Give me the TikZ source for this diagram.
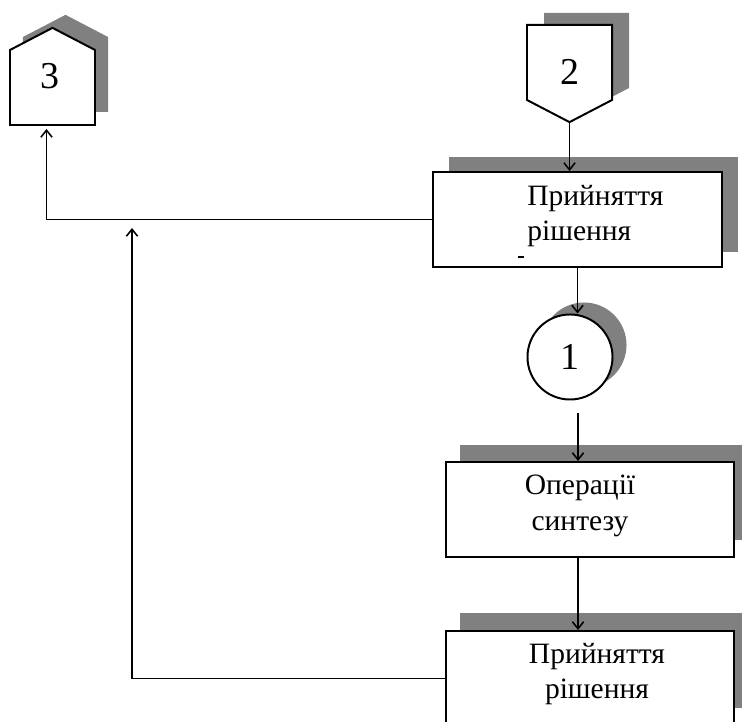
\documentclass[tikz,border=0pt]{standalone}
\usepackage{fontspec}
\setmainfont{Liberation Serif}
\usetikzlibrary{%
  arrows.meta,%
  shadows,%
  shapes.symbols%
}
\tikzset{>={Straight Barb[length=5pt,width=8pt,line width=1.1pt]}}
\definecolor{tinkolir}{gray}{0.5}

\begin{document}
\begin{tikzpicture}[x=0.025cm,y=0.025cm,
    tin/.style 2 args={general shadow={fill=tinkolir,shadow xshift=#1,shadow yshift=#2}},
    blok/.style={draw,fill=white,line width=1.4pt,minimum width=7.2cm,minimum height=2.375cm},
    znak/.style={draw,fill=white,line width=1.4pt,shape=signal,signal pointer angle=125,
      minimum width=2.125cm,minimum height=1.875cm,inner sep=0pt},
    tsyfra/.style={inner sep=0pt,font=\fontsize{27}{30}\selectfont},
    napys/.style={inner sep=0pt,font=\fontsize{21}{25.5}\selectfont},
    lin/.style={line width=1.1pt}]
  \useasboundingbox (0,0) rectangle (742,722);
  % perekhody
  \node[znak,signal to=north,tin={0.325cm}{0.325cm}] (c3) at (52.5,634.5) {};
  \node[tsyfra] (n3) at (50,646) {3};
  \node[znak,signal to=south,tin={0.425cm}{0.3cm}] (c2) at (569.5,659.5) {};
  \node[tsyfra] (n2) at (570,650) {2};
  % bloky
  \node[blok,tin={0.4cm}{0.375cm}] (b1) at (577.5,502.5) {};
  \node[napys,anchor=west,align=left] (t1) at (527,506) {Прийняття\\рішення};
  \draw[line width=0.8pt] (518,465) -- (524,465);
  \node[draw,circle,fill=white,line width=1.4pt,minimum size=2.125cm,inner sep=0pt,
    tin={0.35cm}{0.3cm},tsyfra] (k1) at (570,365) {1};
  \node[blok,tin={0.35cm}{0.425cm}] (b2) at (590,212.5) {};
  \node[napys,align=center] (t2) at (580,216.5) {Операції\\синтезу};
  \node[blok,tin={0.35cm}{0.45cm}] (b3) at (590,43.5) {};
  \node[napys,align=center] (t3) at (597,48) {Прийняття\\рішення};
  % zviazky
  \draw[lin,->] (c2.south) -- (c2.south |- b1.north);
  \draw[lin,->] (b1.south) -- (b1.south |- k1.north);
  \draw[lin,->,shorten <=0.325cm] ([xshift=0.2cm]k1.south) -- ([xshift=0.2cm]k1.south |- b2.north);
  \draw[lin,->] ([xshift=-0.3cm]b2.south) -- ([xshift=-0.3cm]b2.south |- b3.north);
  \draw[lin,->] (b1.west) -| ([xshift=-0.15cm,yshift=-0.075cm]c3.south);
  \coordinate (vuz) at (132,494);
  \draw[lin,->] (b3.west) -| (vuz);
\end{tikzpicture}
\end{document}
